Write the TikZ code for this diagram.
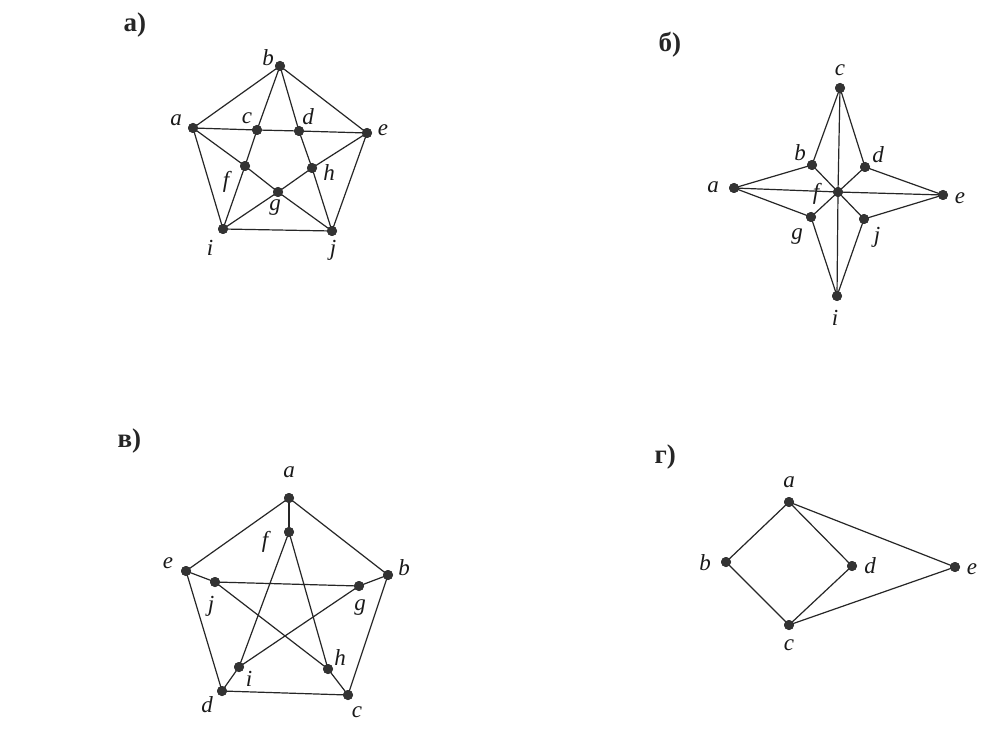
\documentclass[tikz,border=0pt]{standalone}
\usepackage{fontspec}
\newfontfamily\cyr{Liberation Serif}
\begin{document}
\begin{tikzpicture}[x=1pt,y=-1pt,
  dot/.style={circle,fill=black!80,inner sep=0pt,minimum size=10pt},
  edge/.style={draw=black!85,line width=1.2pt},
  panel/.style={anchor=base west,font=\cyr\bfseries\fontsize{27}{31}\selectfont,text=black!85},
  every label/.style={font=\cyr\itshape\fontsize{23}{27}\selectfont,text=black!90,inner sep=0pt}]
\useasboundingbox (0,0) rectangle (1000,735);
\fill[white] (0,0) rectangle (1000,735);

% ---------- panel a ----------
\node[panel] (pa) at (120,32) {а)};
\node[dot,label={[shift={(-17,-8)}]center:a}] (a1) at (193,128) {};
\node[dot,label={[shift={(-12,-8)}]center:b}] (b1) at (280,66) {};
\node[dot,label={[shift={(-10,-12)}]center:c}] (c1) at (257,130) {};
\node[dot,label={[shift={(9,-14)}]center:d}] (d1) at (299,131) {};
\node[dot,label={[shift={(16,-3)}]center:e}] (e1) at (367,133) {};
\node[dot,label={[shift={(-19,16)}]center:f}] (f1) at (245,166) {};
\node[dot,label={[shift={(-3,16)}]center:g}] (g1) at (278,192) {};
\node[dot,label={[shift={(17,5)}]center:h}] (h1) at (312,168) {};
\node[dot,label={[shift={(-13,19)}]center:i}] (i1) at (223,229) {};
\node[dot,label={[shift={(1,19)}]center:j}] (j1) at (332,231) {};
\draw[edge] (a1.center)--(b1.center)--(e1.center)--(j1.center)--(i1.center)--(a1.center);
\draw[edge] (a1.center)--(c1.center)--(d1.center)--(e1.center);
\draw[edge] (b1.center)--(c1.center)--(f1.center)--(i1.center);
\draw[edge] (b1.center)--(d1.center)--(h1.center)--(j1.center);
\draw[edge] (a1.center)--(f1.center)--(g1.center)--(j1.center);
\draw[edge] (e1.center)--(h1.center)--(g1.center)--(i1.center);

% ---------- panel b ----------
\node[panel] (pb) at (655,52) {б)};
\node[dot,label={[shift={(-21,-1)}]center:a}] (a2) at (734,188) {};
\node[dot,label={[shift={(-12,-12)}]center:b}] (b2) at (812,165) {};
\node[dot,label={[shift={(0,-18)}]center:c}] (c2) at (840,88) {};
\node[dot,label={[shift={(13,-12)}]center:d}] (d2) at (865,167) {};
\node[dot,label={[shift={(17,3)}]center:e}] (e2) at (943,195) {};
\node[dot,label={[shift={(-22,2)}]center:f}] (f2) at (838,192) {};
\node[dot,label={[shift={(-14,20)}]center:g}] (g2) at (811,217) {};
\node[dot,label={[shift={(-2,22)}]center:i}] (i2) at (837,296) {};
\node[dot,label={[shift={(13,18)}]center:j}] (j2) at (864,219) {};
\draw[edge] (a2.center)--(b2.center)--(c2.center)--(d2.center)--(e2.center)--(j2.center)--(i2.center)--(g2.center)--(a2.center);
\draw[edge] (c2.center)--(f2.center)--(i2.center);
\draw[edge] (a2.center)--(f2.center)--(e2.center);
\draw[edge] (b2.center)--(f2.center)--(j2.center);
\draw[edge] (d2.center)--(f2.center)--(g2.center);

% ---------- panel v ----------
\node[panel] (pv) at (114,447) {в)};
\node[dot,label={[shift={(0,-26)}]center:a}] (a3) at (289,498) {};
\node[dot,label={[shift={(16,-7)}]center:b}] (b3) at (388,575) {};
\node[dot,label={[shift={(9,17)}]center:c}] (c3) at (348,695) {};
\node[dot,label={[shift={(-15,14)}]center:d}] (d3) at (222,691) {};
\node[dot,label={[shift={(-18,-8)}]center:e}] (e3) at (186,571) {};
\node[dot,label={[shift={(-24,10)}]center:f}] (f3) at (289,532) {};
\node[dot,label={[shift={(1,22)}]center:g}] (g3) at (359,586) {};
\node[dot,label={[shift={(12,-11)}]center:h}] (h3) at (328,669) {};
\node[dot,label={[shift={(10,12)}]center:i}] (i3) at (239,667) {};
\node[dot,label={[shift={(-4,24)}]center:j}] (j3) at (215,582) {};
\draw[edge] (a3.center)--(b3.center)--(c3.center)--(d3.center)--(e3.center)--(a3.center);
\draw[edge] (a3.center)--(f3.center);
\draw[edge] (b3.center)--(g3.center);
\draw[edge] (c3.center)--(h3.center);
\draw[edge] (d3.center)--(i3.center);
\draw[edge] (e3.center)--(j3.center);
\draw[edge] (f3.center)--(i3.center)--(g3.center)--(j3.center)--(h3.center)--(f3.center);

% ---------- panel g ----------
\node[panel] (pg) at (651,463) {г)};
\node[dot,label={[shift={(0,-20)}]center:a}] (a4) at (789,502) {};
\node[dot,label={[shift={(-21,1)}]center:b}] (b4) at (726,562) {};
\node[dot,label={[shift={(0,20)}]center:c}] (c4) at (789,625) {};
\node[dot,label={[shift={(18,0)}]center:d}] (d4) at (852,566) {};
\node[dot,label={[shift={(17,2)}]center:e}] (e4) at (955,567) {};
\draw[edge] (a4.center)--(b4.center)--(c4.center)--(d4.center)--(a4.center);
\draw[edge] (a4.center)--(e4.center)--(c4.center);

% dots on top of the edges
\foreach \n in {a1,b1,c1,d1,e1,f1,g1,h1,i1,j1,a2,b2,c2,d2,e2,f2,g2,i2,j2,a3,b3,c3,d3,e3,f3,g3,h3,i3,j3,a4,b4,c4,d4,e4}
  \fill[black!80] (\n.center) circle (5pt);
\end{tikzpicture}
\end{document}
